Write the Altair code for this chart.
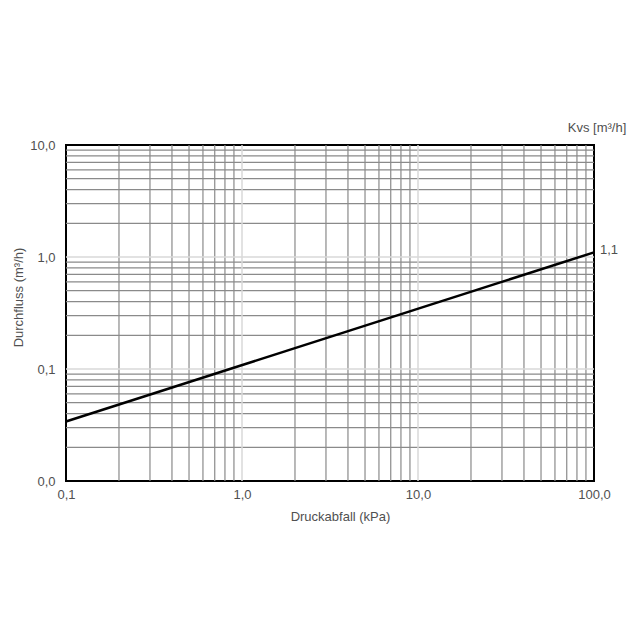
import altair as alt
import pandas as pd

# Flow line
dp_kpa = [0.1, 100.0]
flow = [0.034, 1.1]

# Grid values
x_major = [0.1, 1.0, 10.0, 100.0]
y_major = [0.01, 0.1, 1.0, 10.0]
x_minor = [0.2, 0.3, 0.4, 0.5, 0.6, 0.7, 0.8, 0.9,
           2, 3, 4, 5, 6, 7, 8, 9,
           20, 30, 40, 50, 60, 70, 80, 90]
y_minor = [0.02, 0.03, 0.04, 0.05, 0.06, 0.07, 0.08, 0.09,
           0.2, 0.3, 0.4, 0.5, 0.6, 0.7, 0.8, 0.9,
           2, 3, 4, 5, 6, 7, 8, 9]
x_decade_inner = [1.0, 10.0]
y_decade_inner = [0.1, 1.0]

kvs_label = "1,1"
kvs_title = "Kvs [m³/h]"

FONT = "Liberation Sans"
TXT = "#505050"
FS = 13
lab = "replace(format(datum.value, '.1f'), '.', ',')"

xs = alt.Scale(type="log", domain=[0.1, 100], nice=False)
ys = alt.Scale(type="log", domain=[0.01, 10], nice=False)

xaxis = alt.Axis(values=x_major, labelExpr=lab, title="Druckabfall (kPa)", grid=False,
                 ticks=False, domain=False, labelPadding=7, labelFont=FONT, labelFontSize=FS,
                 labelColor=TXT, titleFont=FONT, titleFontSize=FS, titleFontWeight="normal",
                 titleColor=TXT, titlePadding=9, titleX=274, labelFlush=False)
yaxis = alt.Axis(values=y_major, labelExpr=lab, title="Durchfluss (m³/h)", grid=False,
                 ticks=False, domain=False, labelPadding=11, labelFont=FONT, labelFontSize=FS,
                 labelColor=TXT, titleFont=FONT, titleFontSize=FS, titleFontWeight="normal",
                 titleColor=TXT, titlePadding=4, titleY=152, labelFlush=False)

vminor = alt.Chart(pd.DataFrame({"x": x_minor})).mark_rule(color="#8a8a8a", strokeWidth=1.2).encode(
    x=alt.X("x:Q", scale=xs, axis=xaxis))
hminor = alt.Chart(pd.DataFrame({"y": y_minor})).mark_rule(color="#8a8a8a", strokeWidth=1.2).encode(
    y=alt.Y("y:Q", scale=ys, axis=yaxis))
vmajor = alt.Chart(pd.DataFrame({"x": x_decade_inner})).mark_rule(color="#d8d8d8", strokeWidth=1.5).encode(
    x=alt.X("x:Q", scale=xs))
hmajor = alt.Chart(pd.DataFrame({"y": y_decade_inner})).mark_rule(color="#d8d8d8", strokeWidth=1.5).encode(
    y=alt.Y("y:Q", scale=ys))

line = alt.Chart(pd.DataFrame({"dp": dp_kpa, "q": flow})).mark_line(color="black", strokeWidth=2.5).encode(
    x=alt.X("dp:Q", scale=xs), y=alt.Y("q:Q", scale=ys))

end_label = alt.Chart(pd.DataFrame({"dp": [dp_kpa[-1]], "q": [flow[-1]], "t": [kvs_label]})).mark_text(
    align="left", baseline="middle", dx=6, dy=-2, font=FONT, fontSize=FS, color=TXT).encode(
    x=alt.X("dp:Q", scale=xs), y=alt.Y("q:Q", scale=ys), text="t:N")

top_label = alt.Chart(pd.DataFrame({"dp": [100.0], "q": [10.0], "t": [kvs_title]})).mark_text(
    align="center", baseline="middle", dx=3, dy=-17, font=FONT, fontSize=FS, color=TXT).encode(
    x=alt.X("dp:Q", scale=xs), y=alt.Y("q:Q", scale=ys), text="t:N")

chart = alt.layer(vminor, hminor, vmajor, hmajor, line, end_label, top_label).properties(
    width=528, height=336,
    autosize=alt.AutoSizeParams(type="none"),
    padding={"left": 58, "top": 137, "right": 38, "bottom": 151},
    background="white",
).configure_view(stroke="black", strokeWidth=2)

chart.save("out.html", embed_options={"renderer": "svg", "actions": False})
